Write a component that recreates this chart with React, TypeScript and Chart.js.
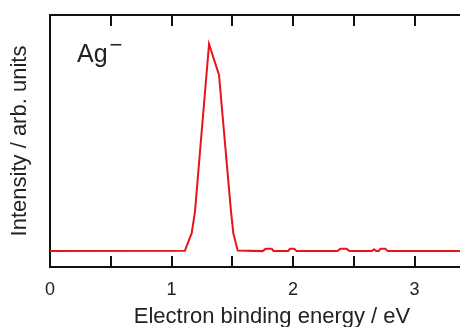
import React, { useEffect, useRef } from "react";
import { Chart, registerables } from "chart.js";

Chart.register(...registerables);

const energies = [0, 1.11, 1.166, 1.193, 1.309, 1.391, 1.49, 1.509, 1.545, 1.75, 1.775, 1.825, 1.84, 1.96, 1.975, 2.01, 2.03, 2.365, 2.39, 2.44, 2.465, 2.65, 2.667, 2.685, 2.705, 2.72, 2.76, 2.78, 3.7];
const intensities = [0.063, 0.064, 0.134, 0.219, 0.885, 0.762, 0.219, 0.134, 0.065, 0.063, 0.072, 0.072, 0.063, 0.063, 0.072, 0.072, 0.063, 0.063, 0.072, 0.072, 0.063, 0.063, 0.070, 0.063, 0.063, 0.072, 0.072, 0.063, 0.063];
const xTicks = [0, 0.5, 1, 1.5, 2, 2.5, 3, 3.5];
const xTickLabels = ["0", "", "1", "", "2", "", "3", ""];
const speciesLabel = "Ag";
const chargeLabel = "\u2212";

const FONT = "'Liberation Sans', Arial, Helvetica, sans-serif";
const CANVAS_W = 494;

const decorPlugin = {
  id: "decor",
  afterDraw(chart: any) {
    const { ctx, chartArea, scales } = chart;
    const xs = scales.x;
    ctx.save();
    ctx.strokeStyle = "#111";
    ctx.lineWidth = 2;
    ctx.beginPath();
    ctx.moveTo(chartArea.left - 1, chartArea.top);
    ctx.lineTo(chartArea.right, chartArea.top);
    ctx.stroke();
    xTicks.forEach((v) => {
      if (v === 0) return;
      const px = Math.round(xs.getPixelForValue(v));
      ctx.beginPath();
      ctx.moveTo(px, chartArea.bottom);
      ctx.lineTo(px, chartArea.bottom - 11);
      ctx.moveTo(px, chartArea.top);
      ctx.lineTo(px, chartArea.top + 11);
      ctx.stroke();
    });
    ctx.fillStyle = "#222";
    ctx.font = `25px ${FONT}`;
    ctx.textBaseline = "alphabetic";
    ctx.textAlign = "left";
    const lx = chartArea.left + 27;
    ctx.fillText(speciesLabel, lx, 62);
    const w = ctx.measureText(speciesLabel).width;
    ctx.font = `22px ${FONT}`;
    ctx.fillText(chargeLabel, lx + w + 2, 52);
    ctx.restore();
  },
};

export default function App() {
  const ref = useRef<HTMLCanvasElement | null>(null);
  useEffect(() => {
    document.body.style.margin = "0";
    const canvas = ref.current!;
    const data = energies.map((x, i) => ({ x, y: intensities[i] }));
    const chart = new Chart(canvas, {
      type: "line",
      data: {
        datasets: [
          {
            data,
            borderColor: "rgb(232,20,24)",
            borderWidth: 2,
            pointRadius: 0,
            tension: 0,
            fill: false,
          },
        ],
      },
      options: {
        responsive: false,
        animation: false,
        layout: { padding: { top: 15, right: 0, left: 0, bottom: 0 } },
        plugins: { legend: { display: false }, tooltip: { enabled: false } },
        scales: {
          x: {
            type: "linear",
            min: 0,
            max: (CANVAS_W - 50) / 121.5,
            afterBuildTicks: (scale: any) => {
              scale.ticks = xTicks.map((v) => ({ value: v }));
            },
            afterFit: (scale: any) => {
              scale.height = 60;
            },
            border: { display: true, color: "#111", width: 2 },
            grid: { display: false, drawTicks: false },
            ticks: {
              autoSkip: false,
              maxRotation: 0,
              padding: 12,
              color: "#222",
              font: { family: FONT, size: 18 },
              callback: (_v: any, i: number) => xTickLabels[i],
            },
            title: {
              display: true,
              text: "Electron binding energy / eV",
              color: "#222",
              font: { family: FONT, size: 22, lineHeight: 0.9 },
              padding: { top: 0, bottom: 0 },
            },
          },
          y: {
            type: "linear",
            min: 0,
            max: 1,
            afterFit: (scale: any) => {
              scale.width = 50;
            },
            border: { display: true, color: "#111", width: 2 },
            grid: { display: false, drawTicks: false },
            ticks: { display: false },
            title: {
              display: true,
              text: "Intensity / arb. units",
              color: "#222",
              font: { family: FONT, size: 22, lineHeight: 1.2 },
              padding: { top: 7, bottom: 0 },
            },
          },
        },
      },
      plugins: [decorPlugin],
    });
    return () => chart.destroy();
  }, []);
  return (
    <div style={{ width: 460, height: 327, overflow: "hidden" }}>
      <canvas ref={ref} width={CANVAS_W} height={327} style={{ display: "block" }} />
    </div>
  );
}
